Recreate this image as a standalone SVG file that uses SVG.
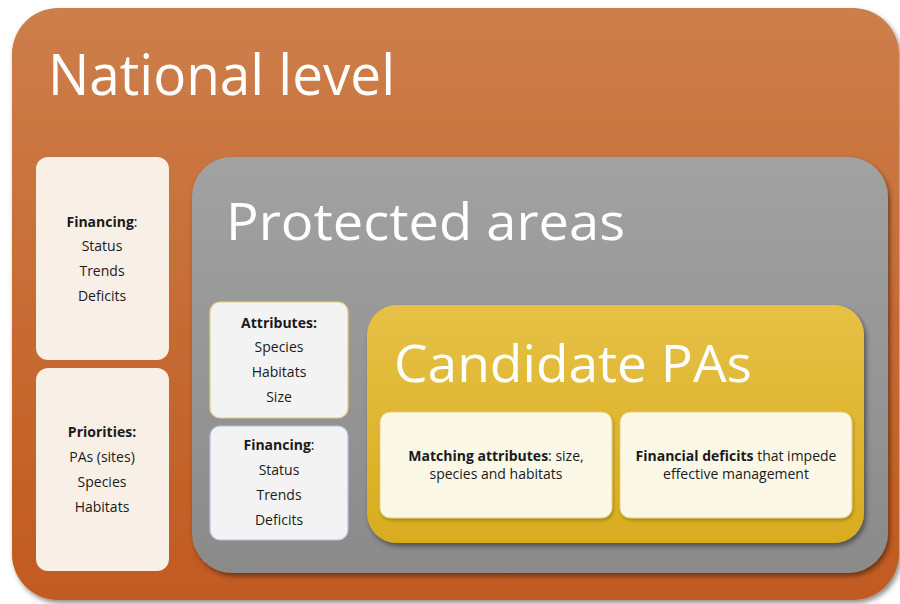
<svg xmlns="http://www.w3.org/2000/svg" width="900" height="604" viewBox="0 0 900 604">
  <defs>
    <linearGradient id="gOrange" x1="0" y1="0" x2="0" y2="1">
      <stop offset="0" stop-color="#cd7e4b"/>
      <stop offset="1" stop-color="#c15a1f"/>
    </linearGradient>
    <linearGradient id="gGrey" x1="0" y1="0" x2="0" y2="1">
      <stop offset="0" stop-color="#a2a2a2"/>
      <stop offset="1" stop-color="#8a8a8a"/>
    </linearGradient>
    <linearGradient id="gYellow" x1="0" y1="0" x2="0" y2="1">
      <stop offset="0" stop-color="#e6c146"/>
      <stop offset="1" stop-color="#d9ac1e"/>
    </linearGradient>
    <filter id="shadow" x="-5%" y="-5%" width="110%" height="115%">
      <feDropShadow dx="2" dy="3" stdDeviation="2.5" flood-color="#000" flood-opacity="0.45"/>
    </filter>
    <filter id="softShadow" x="-5%" y="-5%" width="110%" height="115%">
      <feDropShadow dx="1" dy="2" stdDeviation="1.5" flood-color="#000" flood-opacity="0.25"/>
    </filter>
  </defs>
  <style>
    .title { font-family: "Open Sans", "Noto Sans", sans-serif; fill: #ffffff; }
    .lbl { font-family: "Open Sans", "Noto Sans", sans-serif; font-size: 14px; fill: #1a1a1a; text-anchor: middle; }
    .b { font-weight: bold; }
    .card { fill: #f8efe7; }
    .pa-card { fill: #f3f3f3; stroke-width: 1.2; }
    .cand-card { fill: #fbf8e8; stroke: #e3cf7a; stroke-width: 1; }
  </style>

  <rect width="900" height="604" fill="#ffffff"/>

  <!-- national level container -->
  <g id="national-level">
    <rect x="12" y="8" width="887" height="592" rx="46" fill="url(#gOrange)" filter="url(#shadow)"/>
    <text class="title" x="48" y="95" font-size="56" textLength="347" lengthAdjust="spacingAndGlyphs">National level</text>
  </g>

  <g id="national-financing">
    <rect class="card" x="36" y="157" width="133" height="203" rx="12"/>
    <text class="lbl" x="102" y="227"><tspan class="b">Financing</tspan>:</text>
    <text class="lbl" x="102" y="251">Status</text>
    <text class="lbl" x="102" y="276">Trends</text>
    <text class="lbl" x="102" y="301">Deficits</text>
  </g>

  <g id="national-priorities">
    <rect class="card" x="36" y="368" width="133" height="203" rx="12"/>
    <text class="lbl b" x="102" y="437">Priorities:</text>
    <text class="lbl" x="102" y="462">PAs (sites)</text>
    <text class="lbl" x="102" y="487">Species</text>
    <text class="lbl" x="102" y="512">Habitats</text>
  </g>

  <!-- protected areas container -->
  <g id="protected-areas">
    <rect x="192" y="157" width="696" height="416" rx="40" fill="url(#gGrey)" filter="url(#shadow)"/>
    <text class="title" x="226" y="240" font-size="52" textLength="399" lengthAdjust="spacingAndGlyphs">Protected areas</text>
  </g>

  <g id="pa-attributes">
    <rect class="pa-card" x="210" y="302" width="138" height="116" rx="10" stroke="#e2d27a"/>
    <text class="lbl b" x="279" y="328">Attributes:</text>
    <text class="lbl" x="279" y="352">Species</text>
    <text class="lbl" x="279" y="377">Habitats</text>
    <text class="lbl" x="279" y="402">Size</text>
  </g>

  <g id="pa-financing">
    <rect class="pa-card" x="210" y="426" width="138" height="114" rx="10" stroke="#b3c0dc"/>
    <text class="lbl" x="279" y="450"><tspan class="b">Financing</tspan>:</text>
    <text class="lbl" x="279" y="475">Status</text>
    <text class="lbl" x="279" y="500">Trends</text>
    <text class="lbl" x="279" y="525">Deficits</text>
  </g>

  <!-- candidate protected areas container -->
  <g id="candidate-pas">
    <rect x="367" y="305" width="497" height="238" rx="30" fill="url(#gYellow)" filter="url(#shadow)"/>
    <text class="title" x="394" y="382" font-size="52" textLength="358" lengthAdjust="spacingAndGlyphs">Candidate PAs</text>
  </g>

  <g id="matching-attributes">
    <rect class="cand-card" x="380" y="412" width="232" height="106" rx="10" filter="url(#softShadow)"/>
    <text class="lbl" x="496" y="461"><tspan class="b">Matching attributes</tspan>: size,</text>
    <text class="lbl" x="496" y="479">species and habitats</text>
  </g>

  <g id="financial-deficits">
    <rect class="cand-card" x="620" y="412" width="232" height="106" rx="10" filter="url(#softShadow)"/>
    <text class="lbl" x="736" y="461"><tspan class="b">Financial  deficits</tspan> that impede</text>
    <text class="lbl" x="736" y="479">effective management</text>
  </g>

  <g id="connectors"/>
</svg>
